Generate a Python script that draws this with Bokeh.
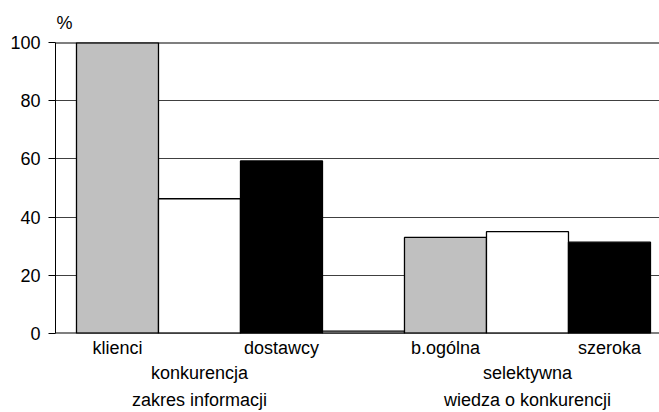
from bokeh.plotting import figure
from bokeh.models import Range1d, FixedTicker, Span, LinearAxis, ColumnDataSource
from bokeh.embed import file_html
from bokeh.resources import INLINE

categories = ["klienci", "konkurencja", "dostawcy", "", "b.ogólna", "selektywna", "szeroka"]
values = [100, 46.3, 59.3, 0.8, 33.0, 35.0, 31.4]
colors = ["#c0c0c0", "#ffffff", "#000000", "#ffffff", "#c0c0c0", "#ffffff", "#000000"]
label_level = [0, 1, 0, 0, 0, 1, 0]
groups = ["zakres informacji", "wiedza o konkurencji"]
group_center = [1, 5]
y_ticks = [0, 20, 40, 60, 80, 100]
y_unit = "%"

FONT = "Liberation Sans"

p = figure(width=659, height=412, output_backend="svg", toolbar_location=None,
           x_range=Range1d(-0.756, 6.61), y_range=Range1d(0, 100),
           min_border_left=55, min_border_right=0, min_border_top=42, min_border_bottom=0,
           title=y_unit)
p.outline_line_color = None
p.background_fill_color = "white"
p.border_fill_color = "white"
p.title.text_font = FONT
p.title.text_font_size = "18px"
p.title.text_font_style = "normal"
p.title.text_color = "black"
p.title.align = "left"
p.title.offset = 1
p.title.standoff = 19

src = ColumnDataSource(dict(x=list(range(len(values))), top=values, color=colors))
p.vbar(x="x", top="top", width=1.0, bottom=0, source=src, fill_color="color",
       line_color="#000000", line_width=1.3)

p.xaxis.visible = False
p.xgrid.visible = False
p.ygrid.grid_line_color = "#404040"
p.ygrid.grid_line_width = 1
p.ygrid.ticker = FixedTicker(ticks=y_ticks)

ya = p.yaxis[0]
ya.ticker = FixedTicker(ticks=y_ticks)
ya.minor_tick_line_color = None
ya.major_tick_in = 0
ya.major_tick_out = 7
ya.major_tick_line_color = "black"
ya.axis_line_color = "black"
ya.major_label_standoff = 8
ya.major_label_text_font = FONT
ya.major_label_text_font_size = "18px"
ya.major_label_text_color = "black"

p.add_layout(Span(location=100, dimension="width", line_color="black", line_width=2))
p.add_layout(Span(location=0, dimension="width", line_color="black", line_width=2))


def label_axis(ticks, labels, standoff):
    ax = LinearAxis(ticker=FixedTicker(ticks=ticks),
                    major_label_overrides={t: s for t, s in zip(ticks, labels)})
    ax.axis_line_color = None
    ax.major_tick_line_color = None
    ax.minor_tick_line_color = None
    ax.major_tick_in = 0
    ax.major_tick_out = 0
    ax.major_label_standoff = standoff
    ax.major_label_text_font = FONT
    ax.major_label_text_font_size = "18px"
    ax.major_label_text_color = "black"
    return ax


for lv, standoff in [(0, 4), (1, 2)]:
    ticks = [i for i, (c, l) in enumerate(zip(categories, label_level)) if c and l == lv]
    labels = [categories[i] for i in ticks]
    p.add_layout(label_axis(ticks, labels, standoff), "below")

p.add_layout(label_axis(group_center, groups, 4), "below")

open("out.html", "w").write(file_html(p, INLINE))
